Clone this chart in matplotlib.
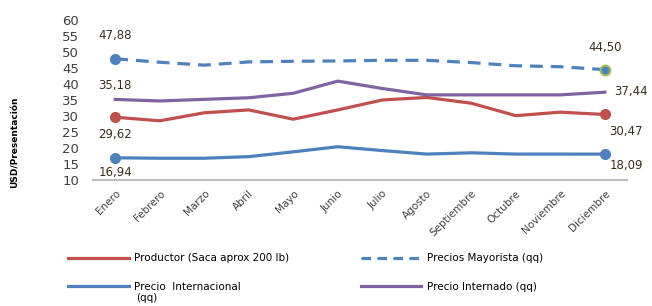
import matplotlib
matplotlib.use("Agg")
from matplotlib import pyplot as plt
from matplotlib.lines import Line2D

meses = ["Enero", "Febrero", "Marzo", "Abril", "Mayo", "Junio", "Julio",
         "Agosto", "Septiembre", "Octubre", "Noviembre", "Diciembre"]
productor = [29.62, 28.5, 31.0, 31.9, 29.0, 31.9, 35.0, 35.8, 34.0, 30.1, 31.2, 30.47]
mayorista = [47.88, 46.8, 45.9, 46.9, 47.1, 47.2, 47.4, 47.4, 46.7, 45.7, 45.4, 44.50]
internacional = [16.94, 16.8, 16.8, 17.3, 18.8, 20.4, 19.2, 18.1, 18.5, 18.1, 18.1, 18.09]
internado = [35.18, 34.7, 35.2, 35.7, 37.1, 40.9, 38.6, 36.6, 36.6, 36.6, 36.6, 37.44]

rojo = "#C0504D"
azul = "#4F81BD"
morado = "#8064A2"
verde = "#9BBB59"

plt.rcParams['font.family'] = ['DejaVu Sans']

fig = plt.figure(figsize=(6.52, 3.06), dpi=100)
ax = fig.add_axes([93/652, 1-180/306, (627-93)/652, 160/306])

x = range(len(meses))
ax.plot(x, productor, color=rojo, lw=2.3)
ax.plot(x, mayorista, color=azul, lw=2.3, ls=(0, (4, 2.5)))
ax.plot(x, internacional, color=azul, lw=2.3)
ax.plot(x, internado, color=morado, lw=2.3)

# marcadores en extremos
ax.plot([0, 11], [productor[0], productor[-1]], 'o', color=rojo, ms=7)
ax.plot([0], [mayorista[0]], 'o', color=azul, ms=7)
ax.plot([11], [mayorista[-1]], 'o', color=azul, mec=verde, mew=1.5, ms=7)
ax.plot([0, 11], [internacional[0], internacional[-1]], 'o', color=azul, ms=7)

def fmt(v):
    return f"{v:.2f}".replace(".", ",")

fs = 8.5
lc = "#3a3020"
ax.text(0, 55.0, fmt(mayorista[0]), fontsize=fs, color=lc, ha='center', va='center')
ax.text(0, 39.4, fmt(internado[0]), fontsize=fs, color=lc, ha='center', va='center')
ax.text(0, 24.1, fmt(productor[0]), fontsize=fs, color=lc, ha='center', va='center')
ax.text(0, 12.2, fmt(internacional[0]), fontsize=fs, color=lc, ha='center', va='center')
ax.text(11, 51.3, fmt(mayorista[-1]), fontsize=fs, color=lc, ha='center', va='center')
ax.text(11.22, 37.5, fmt(internado[-1]), fontsize=fs, color=lc, ha='left', va='center')
ax.text(11.1, 25.0, fmt(productor[-1]), fontsize=fs, color=lc, ha='left', va='center')
ax.text(11.1, 14.4, fmt(internacional[-1]), fontsize=fs, color=lc, ha='left', va='center')

ax.set_xlim(-0.5, 11.5)
ax.set_ylim(10, 60)
ax.set_yticks(range(10, 61, 5))
ax.tick_params(axis='y', length=0, labelsize=9.5, pad=10, labelcolor='#404040')
ax.set_xticks(list(x))
ax.set_xticklabels(meses, rotation=45, ha='right', rotation_mode='anchor', fontsize=7.5)
ax.tick_params(axis='x', length=0, pad=6, labelcolor='#404040')
for s in ['left', 'right', 'top']:
    ax.spines[s].set_visible(False)
ax.spines['bottom'].set_color('#BFBFBF')
ax.spines['bottom'].set_linewidth(1.5)

fig.text(15/652, 1-142/306, "USD/Presentación", rotation=90, fontsize=6.5,
         fontweight='bold', ha='center', va='center')

handles = [
    Line2D([], [], color=rojo, lw=2.3),
    Line2D([], [], color=azul, lw=2.3),
    Line2D([], [], color=azul, lw=2.3, ls=(0, (3, 2))),
    Line2D([], [], color=morado, lw=2.3),
]
labels = ["Productor (Saca aprox 200 lb)", "Precio  Internacional",
          "Precios Mayorista (qq)", "Precio Internado (qq)"]
fig.legend(handles, labels, ncol=2, frameon=False, fontsize=7.5,
           loc='upper left', bbox_to_anchor=(59/652, 1-244/306),
           handlelength=5.8, handletextpad=0.5, columnspacing=6.9,
           labelspacing=1.8)
fig.text(136/652, 1-298/306, "(qq)", fontsize=7.5, ha='left', va='center')

fig.savefig("out.png", dpi=100)
